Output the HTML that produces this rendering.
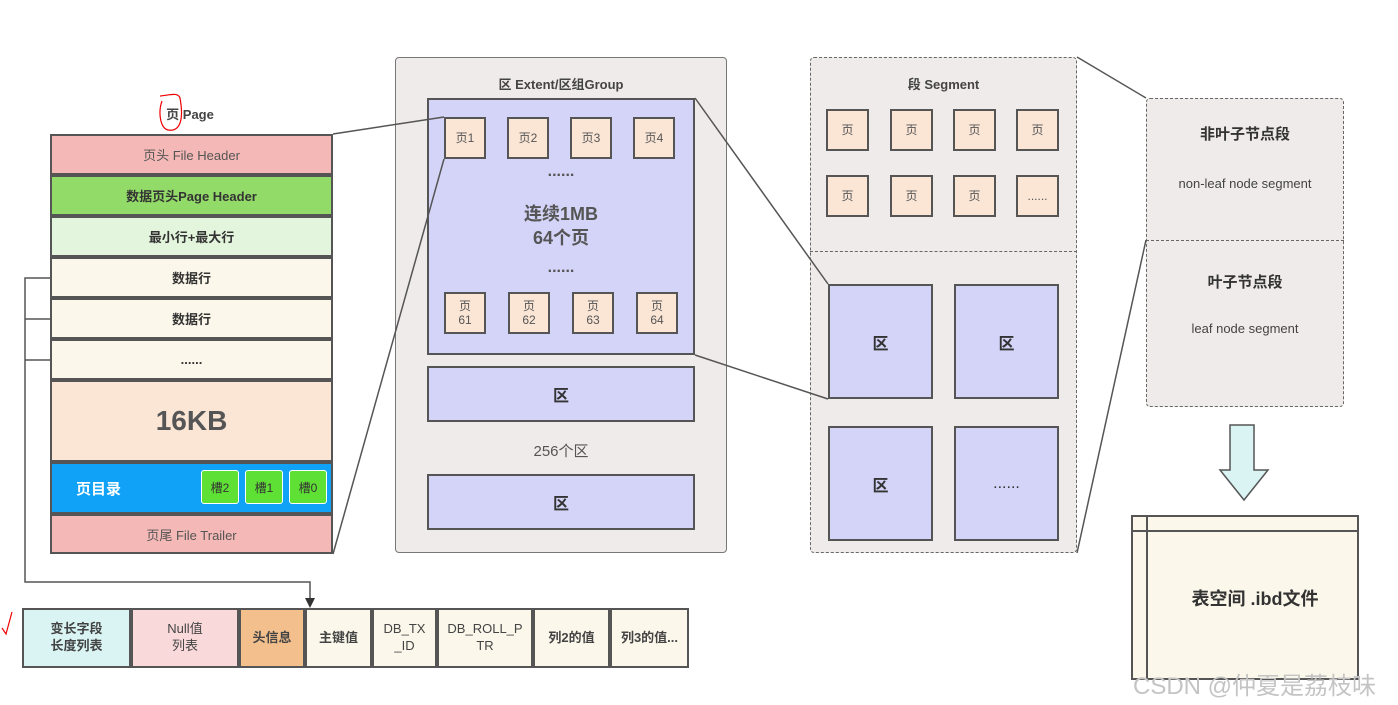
<!DOCTYPE html>
<html><head><meta charset="utf-8"><style>
body{margin:0;width:1398px;height:705px;background:#fff;position:relative;overflow:hidden;font-family:"Liberation Sans","Noto Sans CJK SC",sans-serif;color:#333}
.a{position:absolute;box-sizing:border-box;display:flex;align-items:center;justify-content:center;text-align:center}
.r{border:2px solid #555;left:50px;width:283px;font-size:13px;font-weight:bold}
.pg{background:#fbe6d6;border:2px solid #555;font-size:12px;color:#555;line-height:1.2}
.q{background:#d3d4f8;border:2px solid #555;font-weight:bold;font-size:16px}
.c{top:608px;height:60px;border:2px solid #555;font-size:13px;font-weight:bold;color:#444;line-height:1.3}
</style></head><body>
<div class="a" style="left:150px;top:102px;width:80px;height:22px;font-size:13px;font-weight:bold;color:#444">页 Page</div>
<div class="a r" style="top:134px;height:41px;background:#f4b8b6;font-weight:normal;color:#555">页头 File Header</div>
<div class="a r" style="top:175px;height:41px;background:#93db68">数据页头Page Header</div>
<div class="a r" style="top:216px;height:41px;background:#e3f5dc">最小行+最大行</div>
<div class="a r" style="top:257px;height:41px;background:#fbf7ea">数据行</div>
<div class="a r" style="top:298px;height:41px;background:#fbf7ea">数据行</div>
<div class="a r" style="top:339px;height:41px;background:#fbf7ea">......</div>
<div class="a r" style="top:380px;height:82px;background:#fbe6d6;font-size:28px;color:#555">16KB</div>
<div class="a r" style="top:462px;height:52px;background:#0fa2f7;justify-content:flex-start;color:#fff;font-size:15px;padding-left:24px">页目录</div>
<div class="a" style="left:201px;top:470px;width:38px;height:34px;background:#5fe035;border:1px solid #fff;border-radius:3px;font-size:12px">槽2</div>
<div class="a" style="left:245px;top:470px;width:38px;height:34px;background:#5fe035;border:1px solid #fff;border-radius:3px;font-size:12px">槽1</div>
<div class="a" style="left:289px;top:470px;width:38px;height:34px;background:#5fe035;border:1px solid #fff;border-radius:3px;font-size:12px">槽0</div>
<div class="a r" style="top:514px;height:40px;background:#f4b8b6;font-weight:normal;color:#555">页尾 File Trailer</div>

<div class="a c" style="left:22px;width:109px;background:#d9f4f3">变长字段<br>长度列表</div>
<div class="a c" style="left:131px;width:108px;background:#f9d9d9;font-weight:normal">Null值<br>列表</div>
<div class="a c" style="left:239px;width:66px;background:#f3bf8c">头信息</div>
<div class="a c" style="left:305px;width:67px;background:#fbf7ea">主键值</div>
<div class="a c" style="left:372px;width:65px;background:#fbf7ea;font-weight:normal">DB_TX<br>_ID</div>
<div class="a c" style="left:437px;width:96px;background:#fbf7ea;font-weight:normal">DB_ROLL_P<br>TR</div>
<div class="a c" style="left:533px;width:77px;background:#fbf7ea">列2的值</div>
<div class="a c" style="left:610px;width:79px;background:#fbf7ea">列3的值...</div>

<div class="a" style="left:395px;top:57px;width:332px;height:496px;background:#efebea;border:1.5px solid #777;border-radius:4px"></div>
<div class="a" style="left:395px;top:72px;width:332px;height:22px;font-size:13px;font-weight:bold;color:#444">区 Extent/区组Group</div>
<div class="a" style="left:427px;top:98px;width:268px;height:257px;background:#d3d4f8;border:2px solid #555;flex-direction:column;font-size:18px;font-weight:bold;color:#555;line-height:1.3">连续1MB<br>64个页</div>
<div class="a" style="left:427px;top:162px;width:268px;height:20px;font-weight:bold;color:#555">......</div>
<div class="a" style="left:427px;top:258px;width:268px;height:20px;font-weight:bold;color:#555">......</div>
<div class="a pg" style="left:444px;top:117px;width:42px;height:42px">页1</div>
<div class="a pg" style="left:507px;top:117px;width:42px;height:42px">页2</div>
<div class="a pg" style="left:570px;top:117px;width:42px;height:42px">页3</div>
<div class="a pg" style="left:633px;top:117px;width:42px;height:42px">页4</div>
<div class="a pg" style="left:444px;top:292px;width:42px;height:42px">页<br>61</div>
<div class="a pg" style="left:508px;top:292px;width:42px;height:42px">页<br>62</div>
<div class="a pg" style="left:572px;top:292px;width:42px;height:42px">页<br>63</div>
<div class="a pg" style="left:636px;top:292px;width:42px;height:42px">页<br>64</div>
<div class="a q" style="left:427px;top:366px;width:268px;height:56px">区</div>
<div class="a" style="left:427px;top:438px;width:268px;height:24px;font-size:15px;color:#555">256个区</div>
<div class="a q" style="left:427px;top:474px;width:268px;height:56px">区</div>

<div class="a" style="left:810px;top:57px;width:267px;height:496px;background:#efebea;border:1.5px dashed #666;border-radius:4px"></div>
<div style="position:absolute;left:810px;top:251px;width:267px;border-top:1.5px dashed #666"></div>
<div class="a" style="left:810px;top:72px;width:267px;height:22px;font-size:13px;font-weight:bold;color:#444">段 Segment</div>
<div class="a pg" style="left:826px;top:109px;width:43px;height:42px">页</div>
<div class="a pg" style="left:890px;top:109px;width:43px;height:42px">页</div>
<div class="a pg" style="left:953px;top:109px;width:43px;height:42px">页</div>
<div class="a pg" style="left:1016px;top:109px;width:43px;height:42px">页</div>
<div class="a pg" style="left:826px;top:175px;width:43px;height:42px">页</div>
<div class="a pg" style="left:890px;top:175px;width:43px;height:42px">页</div>
<div class="a pg" style="left:953px;top:175px;width:43px;height:42px">页</div>
<div class="a pg" style="left:1016px;top:175px;width:43px;height:42px">......</div>
<div class="a q" style="left:828px;top:284px;width:105px;height:115px">区</div>
<div class="a q" style="left:954px;top:284px;width:105px;height:115px">区</div>
<div class="a q" style="left:828px;top:426px;width:105px;height:115px">区</div>
<div class="a q" style="left:954px;top:426px;width:105px;height:115px;font-weight:normal">......</div>

<div class="a" style="left:1146px;top:98px;width:198px;height:309px;background:#efebea;border:1.5px dashed #666;border-radius:4px"></div>
<div style="position:absolute;left:1146px;top:240px;width:198px;border-top:1.5px dashed #666"></div>
<div class="a" style="left:1146px;top:122px;width:198px;height:22px;font-size:15px;font-weight:bold;color:#333">非叶子节点段</div>
<div class="a" style="left:1146px;top:172px;width:198px;height:22px;font-size:13px;color:#444">non-leaf node segment</div>
<div class="a" style="left:1146px;top:270px;width:198px;height:22px;font-size:15px;font-weight:bold;color:#333">叶子节点段</div>
<div class="a" style="left:1146px;top:317px;width:198px;height:22px;font-size:13px;color:#444">leaf node segment</div>

<div class="a" style="left:1131px;top:515px;width:228px;height:165px;background:#fbf7ea;border:2px solid #555;font-size:18px;font-weight:bold;padding-left:20px">表空间 .ibd文件</div>
<div style="position:absolute;left:1146px;top:515px;height:165px;border-left:2px solid #555"></div>
<div style="position:absolute;left:1131px;top:530px;width:228px;border-top:2px solid #555"></div>
<div class="a" style="left:1133px;top:667px;width:265px;height:32px;font-size:24px;color:#c4c4c4;justify-content:flex-start;white-space:nowrap">CSDN @仲夏是荔枝味</div>

<svg width="1398" height="705" style="position:absolute;left:0;top:0" fill="none">
<g stroke="#555" stroke-width="1.5">
<line x1="333" y1="134" x2="444" y2="117"/><line x1="333" y1="554" x2="444" y2="159"/>
<line x1="695" y1="98" x2="828" y2="284"/><line x1="695" y1="355" x2="828" y2="399"/>
<line x1="1077" y1="57" x2="1146" y2="98"/><line x1="1077" y1="553" x2="1146" y2="240"/>
<polyline points="50,278 25,278 25,582 310,582 310,600"/>
<line x1="25" y1="319" x2="50" y2="319"/><line x1="25" y1="360" x2="50" y2="360"/>
</g>
<polygon points="305,598 315,598 310,608" fill="#333"/>
<polygon points="1230,425 1254,425 1254,470 1268,470 1244,500 1220,470 1230,470" fill="#d9f4f3" stroke="#555" stroke-width="1.5"/>
<path d="M162,101 C158,112 160,128 168,130 C180,132 184,120 180,98 C178,92 170,95 160,96" stroke="#e00" stroke-width="1.2"/>
<path d="M2,628 L6,634 L12,612" stroke="#e00" stroke-width="1.2"/>
</svg>
</body></html>
